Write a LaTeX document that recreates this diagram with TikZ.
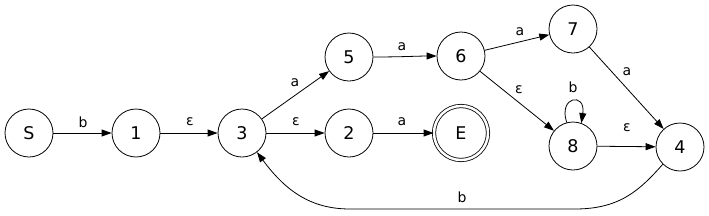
\documentclass[tikz,border=0pt]{standalone}
\usepackage{fontspec}
\setmainfont{DejaVu Sans}
\usetikzlibrary{arrows.meta}
\begin{document}
\begin{tikzpicture}[x=1pt,y=-1pt,
  state/.style={circle,draw,line width=0.8pt,minimum size=48pt,inner sep=0pt,font=\fontsize{17.5}{17.5}\selectfont},
  accept/.style={state,double,double distance=2.5pt,minimum size=54pt},
  edge/.style={draw,line width=0.8pt,-{Triangle[length=10pt,width=7pt]}},
  lbl/.style={font=\fontsize{14}{14}\selectfont,inner sep=1pt}]
\useasboundingbox (0,0) rectangle (709,215);
\node[state] (S) at (29,133) {S};
\node[state] (n1) at (136,133) {1};
\node[state] (n3) at (242,133) {3};
\node[state] (n2) at (349,133) {2};
\node[accept] (E) at (461,133) {E};
\node[state] (n5) at (349,57) {5};
\node[state] (n6) at (461,56) {6};
\node[state] (n7) at (573,29) {7};
\node[state] (n8) at (573,146) {8};
\node[state] (n4) at (680,147) {4};
\path[edge] (S) -- (n1);
\path[edge] (n1) -- (n3);
\path[edge] (n3) -- (n2);
\path[edge] (n2) -- (E);
\path[edge] (n3) -- (n5);
\path[edge] (n5.east) .. controls (400,57) and (420,56) .. (n6.west);
\path[edge] (n6) -- (n7);
\path[edge] (n6) -- (n8);
\path[edge] (n7) -- (n4);
\path[edge] (n8) -- (n4);
\path[edge] (n8.105) .. controls (558,96) and (586,92) .. (n8.70);
\path[edge] (n4.-135) .. controls (640,190) and (620,209) .. (575,209) -- (350,209) .. controls (310,209) and (285,190) .. (n3.-52);
\node[lbl] (lb1) at (83,122) {b};
\node[lbl] (le1) at (190,122) {ε};
\node[lbl] (le2) at (296,122) {ε};
\node[lbl] (la1) at (402,122) {a};
\node[lbl] (la2) at (295,83) {a};
\node[lbl] (la3) at (402,47) {a};
\node[lbl] (la4) at (520,32) {a};
\node[lbl] (le3) at (519,90) {ε};
\node[lbl] (lb2) at (573,87) {b};
\node[lbl] (la5) at (627,72) {a};
\node[lbl] (le4) at (627,128) {ε};
\node[lbl] (lb3) at (462,197) {b};
\end{tikzpicture}
\end{document}
